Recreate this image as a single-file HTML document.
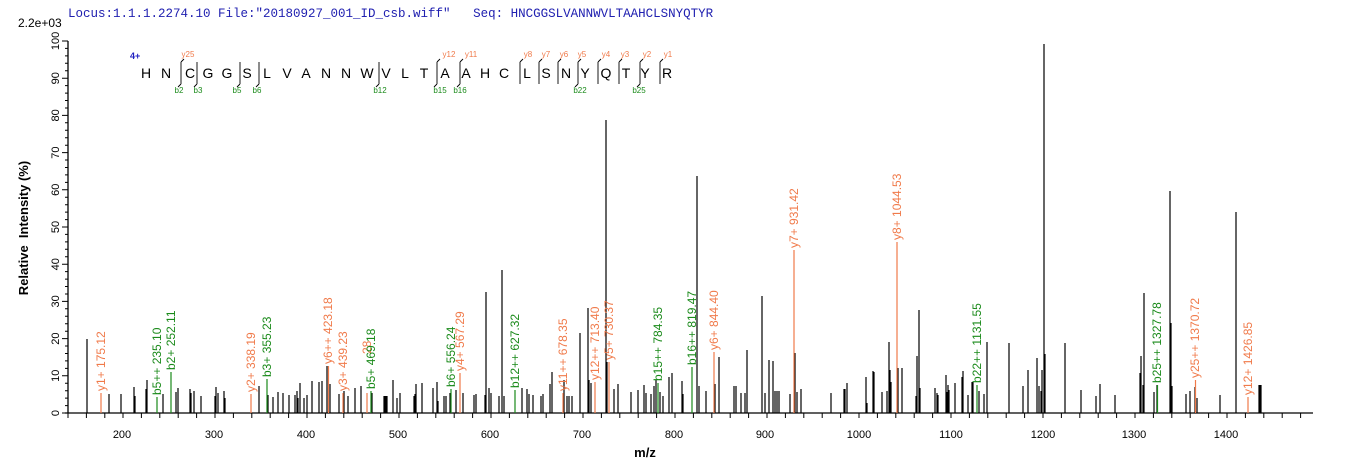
<!DOCTYPE html>
<html><head><meta charset="utf-8"><style>
html,body{margin:0;padding:0;background:#fff;}
svg{display:block;font-family:"Liberation Sans",sans-serif;}
</style></head><body>
<svg width="1362" height="473" viewBox="0 0 1362 473" xmlns="http://www.w3.org/2000/svg">
<text x="68" y="17" font-family="Liberation Mono,monospace" font-size="12.5" fill="#2020b0" xml:space="preserve">Locus:1.1.1.2274.10 File:"20180927_001_ID_csb.wiff"   Seq: HNCGGSLVANNWVLTAAHCLSNYQTYR</text>
<text x="18" y="27" font-size="12" fill="#000">2.2e+03</text>
<path d="M68 41V413M65 413H1313" stroke="#000" stroke-width="1.3" fill="none"/>
<path stroke="#000" stroke-width="1" fill="none" d="M62 413H68M62 375.8H68M62 338.6H68M62 301.4H68M62 264.2H68M62 227H68M62 189.8H68M62 152.6H68M62 115.4H68M62 78.2H68M62 41H68
M65 405.6H68M65 398.1H68M65 390.7H68M65 383.2H68M65 368.4H68M65 360.9H68M65 353.5H68M65 346H68M65 331.2H68M65 323.7H68M65 316.3H68M65 308.8H68M65 294H68M65 286.5H68M65 279.1H68M65 271.6H68M65 256.8H68M65 249.3H68M65 241.9H68M65 234.4H68M65 219.6H68M65 212.1H68M65 204.7H68M65 197.2H68M65 182.4H68M65 174.9H68M65 167.5H68M65 160H68M65 145.2H68M65 137.7H68M65 130.3H68M65 122.8H68M65 108H68M65 100.5H68M65 93.1H68M65 85.6H68M65 70.8H68M65 63.3H68M65 55.9H68M65 48.4H68"/>
<path stroke="#000" stroke-width="1" d="M68 413v5M86.4 413v5M104.8 413v5M123 413v5M141.4 413v5M159.8 413v5M178.2 413v5M196.6 413v5M215 413v5M233.4 413v5M251.8 413v5M270.2 413v5M288.6 413v5M307 413v5M325.4 413v5M343.8 413v5M362.2 413v5M380.6 413v5M399 413v5M417.4 413v5M435.8 413v5M454.2 413v5M472.6 413v5M491 413v5M509.4 413v5M527.8 413v5M546.2 413v5M564.6 413v5M583 413v5M601.4 413v5M619.8 413v5M638.2 413v5M656.6 413v5M675 413v5M693.4 413v5M711.8 413v5M730.2 413v5M748.6 413v5M767 413v5M785.4 413v5M803.8 413v5M822.2 413v5M840.6 413v5M859 413v5M877.4 413v5M895.8 413v5M914.2 413v5M932.6 413v5M951 413v5M969.4 413v5M987.8 413v5M1006.2 413v5M1024.6 413v5M1043 413v5M1061.4 413v5M1079.8 413v5M1098.2 413v5M1116.6 413v5M1135 413v5M1153.4 413v5M1171.8 413v5M1190.2 413v5M1208.6 413v5M1227 413v5M1245.4 413v5M1263.8 413v5M1282.2 413v5M1300.6 413v5"/>
<g font-size="11" text-anchor="middle" fill="#000">
<text x="122" y="438">200</text><text x="214" y="438">300</text><text x="306" y="438">400</text><text x="398" y="438">500</text><text x="490" y="438">600</text><text x="582" y="438">700</text><text x="674" y="438">800</text><text x="765" y="438">900</text><text x="859" y="438">1000</text><text x="951" y="438">1100</text><text x="1043" y="438">1200</text><text x="1134" y="438">1300</text><text x="1226" y="438">1400</text>
</g>
<g font-size="11" text-anchor="middle" fill="#000">
<text transform="translate(59,413) rotate(-90)">0</text><text transform="translate(59,375.8) rotate(-90)">10</text><text transform="translate(59,338.6) rotate(-90)">20</text><text transform="translate(59,301.4) rotate(-90)">30</text><text transform="translate(59,264.2) rotate(-90)">40</text><text transform="translate(59,227) rotate(-90)">50</text><text transform="translate(59,189.8) rotate(-90)">60</text><text transform="translate(59,152.6) rotate(-90)">70</text><text transform="translate(59,115.4) rotate(-90)">80</text><text transform="translate(59,78.2) rotate(-90)">90</text><text transform="translate(59,41) rotate(-90)">100</text>
</g>
<text transform="translate(28,228) rotate(-90)" font-size="13" font-weight="bold" text-anchor="middle" xml:space="preserve">Relative  Intensity (%)</text>
<text x="645" y="457" font-size="13" font-weight="bold" text-anchor="middle">m/z</text>
<path stroke="#000" stroke-width="1.2" fill="none" d="M87 413V339M109 413V394M121 413V394M134 413V387M135 413V396M146 413V389M147 413V380M163 413V394M176 413V392M178 413V388M190 413V389M191 413V393M194 413V391M201 413V396M215 413V396M216 413V387M218 413V393M224 413V391M225 413V398M259 413V386M268 413V395M273 413V397M278 413V392M283 413V393M289 413V395M295 413V395M297 413V391M298 413V398M300 413V383M304 413V398M307 413V395M312 413V381M319 413V382M322 413V381M327 413V366M330 413V384M339 413V394M344 413V391M348 413V396M355 413V388M361 413V386M372 413V393M385 413V396M387 413V396
M384 413V396M386 413V396M393 413V380M397 413V398M400 413V393M414 413V396M415 413V394M416 413V384M422 413V383M433 413V388M437 413V382M438 413V401M444 413V396M446 413V396M450 413V393M456 413V390M463 413V393M474 413V395M476 413V394M485 413V395M486 413V292M489 413V388M491 413V393M499 413V396M502 413V270M504 413V396M522 413V388M527 413V389M529 413V394M533 413V395M541 413V396M543 413V394M550 413V384M552 413V372M564 413V380M567 413V396M569 413V396M572 413V396M580 413V333M588 413V308M589 413V380M591 413V383M606 413V120M607 413V362M614 413V389M618 413V384M631 413V392M638 413V390M644 413V385M646 413V393M651 413V394M654 413V386M656 413V380M660 413V392M663 413V396M669 413V377M672 413V373M682 413V381M683 413V394M697 413V176M699 413V386
M706 413V391M715 413V384M719 413V357M734 413V386M736 413V386M741 413V393M745 413V393M747 413V350M762 413V296M765 413V393M769 413V360M773 413V361M775 413V391M777 413V391M779 413V391M790 413V394M795 413V353M797 413V392M801 413V389M831 413V393M844 413V389M845 413V389M847 413V383M866 413V377M867 413V403M873 413V371M874 413V372M882 413V392M887 413V391M889 413V342M890 413V370M891 413V382M898 413V368M902 413V368M916 413V396M917 413V356M919 413V310M920 413V388M935 413V388M937 413V393M938 413V395M946 413V375M947 413V392M948 413V385M949 413V390M955 413V383M962 413V377M963 413V371M968 413V395M972 413V382M973 413V382M979 413V391M984 413V394M987 413V342M1009 413V343M1023 413V386M1028 413V370
M1037 413V358M1039 413V386M1041 413V391M1042 413V370M1044 413V44M1045 413V354M1065 413V343M1081 413V390M1096 413V396M1100 413V384M1115 413V395M1140 413V373M1141 413V356M1143 413V385M1144 413V293M1154 413V392M1157 413V385M1170 413V191M1171 413V323M1172 413V386M1186 413V394M1190 413V391M1195 413V387M1197 413V398M1220 413V395M1236 413V212M1259 413V385M1260 413V385M1261 413V385"/>
<path stroke="#f07a4a" stroke-width="1.2" fill="none" d="M101 413V393M251 413V394M328.5 413V366M343 413V393M367 413V393M460 413V373M563 413V393M595 413V382M609 413V362M714 413V352M794 413V250M897 413V242M1195.5 413V380M1248 413V397"/>
<g fill="#f07a4a" font-size="12">
<text transform="translate(105,391) rotate(-90)">y1+ 175.12</text>
<text transform="translate(255,392) rotate(-90)">y2+ 338.19</text>
<text transform="translate(332,364) rotate(-90)">y6++ 423.18</text>
<text transform="translate(347,391) rotate(-90)">y3+ 439.23</text>
<text transform="translate(371,354) rotate(-90)">28</text>
<text transform="translate(464,371) rotate(-90)">y4+ 567.29</text>
<text transform="translate(567,391) rotate(-90)">y11++ 678.35</text>
<text transform="translate(599,380) rotate(-90)">y12++ 713.40</text>
<text transform="translate(613,360) rotate(-90)">y5+ 730.37</text>
<text transform="translate(718,350) rotate(-90)">y6+ 844.40</text>
<text transform="translate(798,248) rotate(-90)">y7+ 931.42</text>
<text transform="translate(901,240) rotate(-90)">y8+ 1044.53</text>
<text transform="translate(1199,378) rotate(-90)">y25++ 1370.72</text>
<text transform="translate(1252,395) rotate(-90)">y12+ 1426.85</text>
</g>
<path stroke="#1a8a1a" stroke-width="1.2" fill="none" d="M157 413V397M171 413V372M267 413V379M371 413V391M451 413V389M515 413V390M658 413V383M692 413V367M977 413V385M1157.5 413V385"/>
<g fill="#1a8a1a" font-size="12">
<text transform="translate(161,395) rotate(-90)">b5++ 235.10</text>
<text transform="translate(175,370) rotate(-90)">b2+ 252.11</text>
<text transform="translate(271,377) rotate(-90)">b3+ 355.23</text>
<text transform="translate(375,389) rotate(-90)">b5+ 469.18</text>
<text transform="translate(455,387) rotate(-90)">b6+ 556.24</text>
<text transform="translate(519,388) rotate(-90)">b12++ 627.32</text>
<text transform="translate(662,381) rotate(-90)">b15++ 784.35</text>
<text transform="translate(696,365) rotate(-90)">b16++ 819.47</text>
<text transform="translate(981,383) rotate(-90)">b22++ 1131.55</text>
<text transform="translate(1161,383) rotate(-90)">b25++ 1327.78</text>
</g>
<text x="130" y="59" font-size="9" font-weight="bold" fill="#2020c0">4+</text>
<g font-size="14" text-anchor="middle" fill="#000">
<text x="146" y="78">H</text><text x="166" y="78">N</text><text x="190" y="78">C</text><text x="208" y="78">G</text><text x="227" y="78">G</text><text x="247" y="78">S</text><text x="267" y="78">L</text><text x="287" y="78">V</text><text x="306" y="78">A</text><text x="326" y="78">N</text><text x="346" y="78">N</text><text x="367" y="78">W</text><text x="386" y="78">V</text><text x="405" y="78">L</text><text x="424" y="78">T</text><text x="445" y="78">A</text><text x="466" y="78">A</text><text x="485" y="78">H</text><text x="504" y="78">C</text><text x="527" y="78">L</text><text x="546" y="78">S</text><text x="566" y="78">N</text><text x="585" y="78">Y</text><text x="606" y="78">Q</text><text x="626" y="78">T</text><text x="645" y="78">Y</text><text x="667" y="78">R</text>
</g>
<path stroke="#000" stroke-width="0.9" fill="none" d="M181 62V84M181 62l3 -3M181 84l-3 3M197 62V84M197 84l-3 3M240 62V84M240 84l-3 3M259 62V84M259 84l-3 3M379 62V84M379 84l-3 3M437 62V84M437 62l3 -3M437 84l-3 3M460 62V84M460 62l3 -3M460 84l-3 3M520 62V84M520 62l3 -3M539 62V84M539 62l3 -3M558 62V84M558 62l3 -3M578 62V84M578 62l3 -3M578 84l-3 3M598 62V84M598 62l3 -3M619 62V84M619 62l3 -3M640 62V84M640 62l3 -3M640 84l-3 3M660 62V84M660 62l3 -3"/>
<g font-size="8" fill="#f07a4a" text-anchor="middle">
<text x="188" y="57">y25</text><text x="449" y="57">y12</text><text x="471" y="57">y11</text><text x="528" y="57">y8</text><text x="546" y="57">y7</text><text x="564" y="57">y6</text><text x="582" y="57">y5</text><text x="606" y="57">y4</text><text x="625" y="57">y3</text><text x="647" y="57">y2</text><text x="668" y="57">y1</text>
</g>
<g font-size="8" fill="#1a8a1a" text-anchor="middle">
<text x="179" y="93">b2</text><text x="198" y="93">b3</text><text x="237" y="93">b5</text><text x="257" y="93">b6</text><text x="380" y="93">b12</text><text x="440" y="93">b15</text><text x="460" y="93">b16</text><text x="580" y="93">b22</text><text x="639" y="93">b25</text>
</g>
</svg>
</body></html>
